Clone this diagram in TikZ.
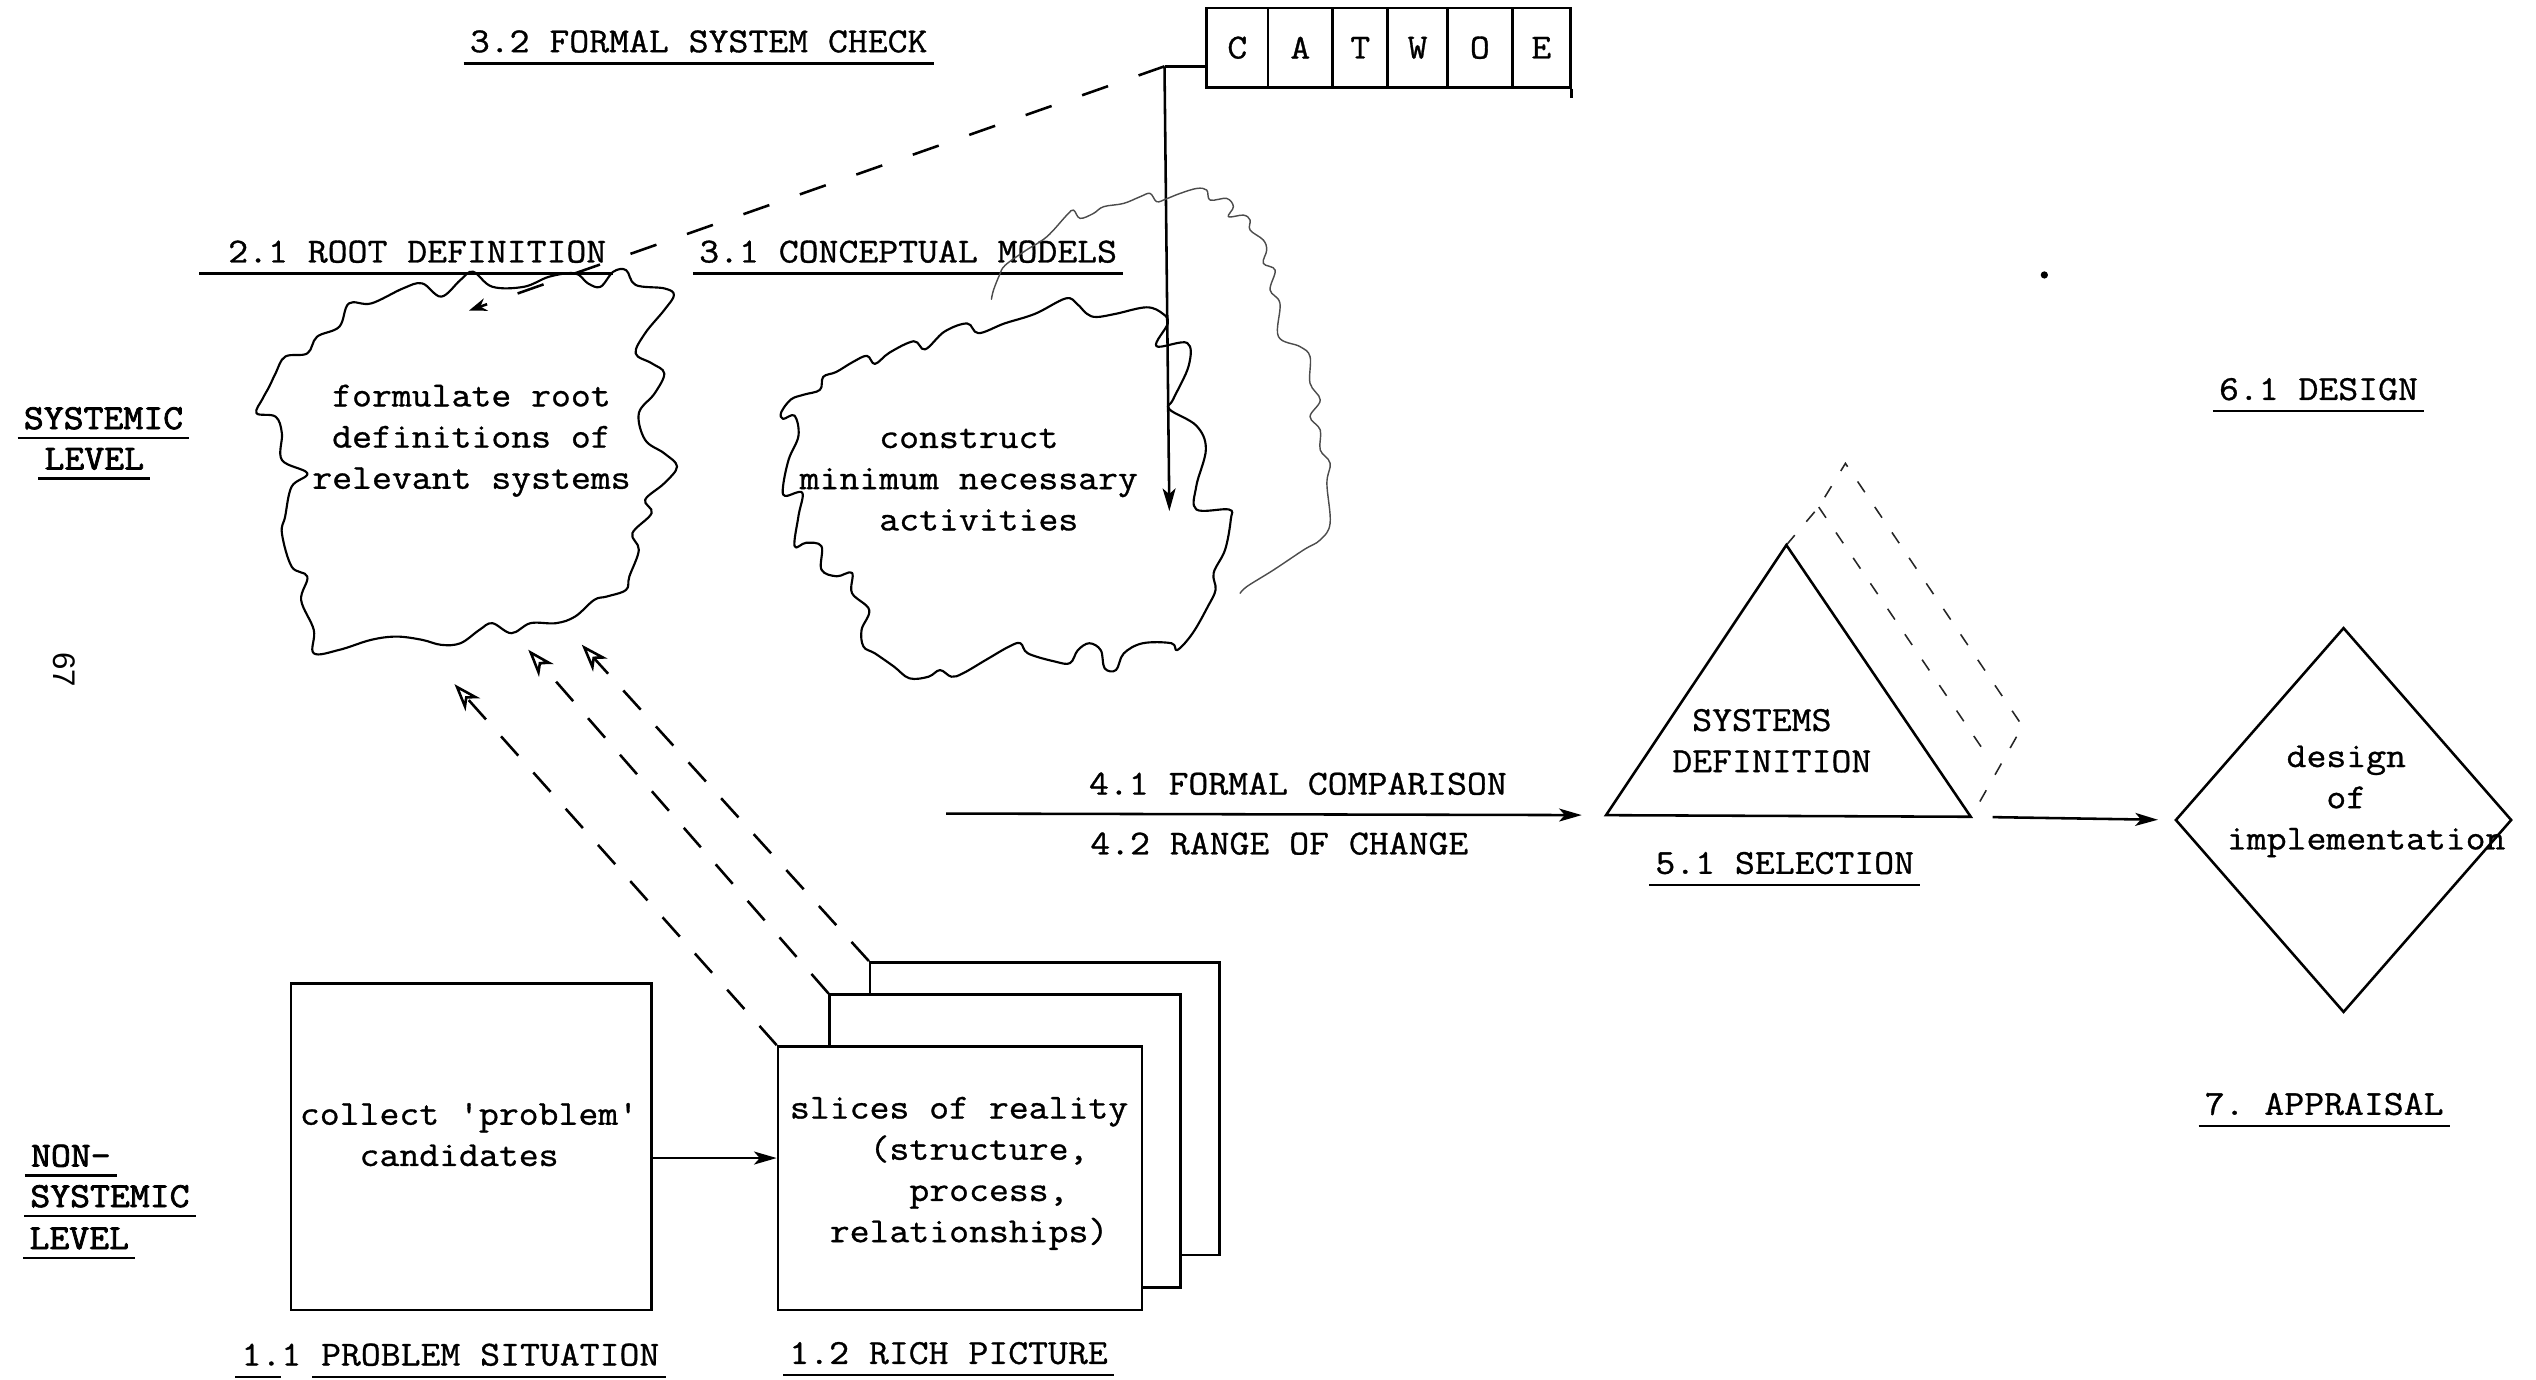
\documentclass[tikz,border=0pt]{standalone}
\usepackage{fontspec}
\setmonofont{Latin Modern Mono}[FakeStretch=1.1, FakeBold=0.9]
\newfontfamily\levelfont{Latin Modern Mono}[FakeStretch=1.1, FakeBold=2.2]
\newfontfamily\folio{Liberation Sans}
\usetikzlibrary{arrows.meta,shapes.geometric}
\begin{document}
\begin{tikzpicture}[x=0.02cm,y=-0.02cm,
  tt/.style={font=\ttfamily\fontsize{12.36}{14.5}\selectfont, inner sep=0pt},
  heading/.style={tt, text height=0.6em, text depth=0pt, inner xsep=2pt, inner ysep=3.75pt},
  levellabel/.style={heading, font=\levelfont\fontsize{12.36}{14.5}\selectfont, inner ysep=2.9pt},
  body/.style={tt, align=center},
  bodyleft/.style={tt, align=left},
  uline/.style={line width=0.85pt},
  boxline/.style={draw, line width=0.9pt, inner sep=0pt},
  sheet/.style={boxline, fill=white},
  cell/.style={boxline, tt, minimum height=0.98cm},
  cloudline/.style={line width=0.75pt, line join=round, line cap=round},
  faintcloud/.style={line width=0.5pt, black!70, line cap=round, line join=round},
  arr/.style={line width=0.9pt, -{Stealth[length=0.28cm,width=0.16cm,inset=0.07cm]}},
  longdash/.style={line width=0.9pt, dash pattern=on 0.32cm off 0.28cm},
  catdash/.style={line width=0.9pt, dash pattern=on 0.34cm off 0.4cm},
  opentip/.style={-{Stealth[open,length=0.34cm,width=0.24cm,inset=0.1cm]}},
  thindash/.style={line width=0.55pt, black!85, dash pattern=on 0.16cm off 0.22cm}
]
\useasboundingbox (0,0) rectangle (1568,853);

% ---------- headings ----------
\node[heading] (h32) at (432,27) {3.2 FORMAL SYSTEM CHECK};
\node[heading] (h21) at (258,157) {2.1 ROOT DEFINITION};
\node[heading] (h31) at (561.5,157) {3.1 CONCEPTUAL MODELS};
\node[heading] (h61) at (1433.5,242) {6.1 DESIGN};
\node[heading] (h7) at (1437,684) {7. APPRAISAL};
\node[heading] (h41) at (802.5,486) {4.1 FORMAL COMPARISON};
\node[heading] (h42) at (791,523) {4.2 RANGE OF CHANGE};
\node[heading] (h51) at (1103.5,535) {5.1 SELECTION};
\node[heading] (h11) at (278.5,839) {1.1 PROBLEM SITUATION};
\node[heading] (h12) at (586.5,838) {1.2 RICH PICTURE};

% ---------- level labels ----------
\node[levellabel] (sysA) at (64,260) {SYSTEMIC};
\node[levellabel] (sysB) at (58.3,285) {LEVEL};
\node[levellabel] (nonA) at (43.8,716) {NON-};
\node[levellabel] (nonB) at (68,741) {SYSTEMIC};
\node[levellabel] (nonC) at (49,767) {LEVEL};

\foreach \n in {h32,h31,h61,h7,h51,h12,sysA,sysB,nonA,nonB,nonC}
  \draw[uline] (\n.south west) -- (\n.south east);
\draw[uline] ([xshift=-0.28cm]h21.south west) -- (h21.south east);
\draw[uline] (h11.south west) -- ++(0.56cm,0);
\draw[uline] ([xshift=0.95cm]h11.south west) -- (h11.south east);

% page number
\node[font=\folio\fontsize{11}{13}\selectfont, rotate=-90, inner sep=0pt] (pg) at (40,414) {67};
% stray dot
\fill (1264,170) circle (0.045cm);

% ---------- CATWOE ----------
\node[cell, minimum width=0.76cm] (cC) at (765,29.5) {C};
\node[cell, minimum width=0.80cm] (cA) at (804,29.5) {A};
\node[cell, minimum width=0.68cm] (cT) at (841,29.5) {T};
\node[cell, minimum width=0.74cm] (cW) at (876.5,29.5) {W};
\node[cell, minimum width=0.80cm] (cO) at (915,29.5) {O};
\node[cell, minimum width=0.72cm] (cE) at (953,29.5) {E};
\draw[line width=0.9pt] (cE.south east) -- ++(0,6);

\coordinate (jn) at (720,41);
\coordinate (vtip) at (723,316);
\coordinate (rdtip) at (290,192);
\draw[line width=0.9pt] (jn) -- (cC.west |- jn);
\draw[arr] (jn) -- (vtip);
\draw[catdash, -{Stealth[length=0.22cm,width=0.16cm]}] (jn) -- (rdtip);

% ---------- root definition cloud ----------
\draw[cloudline] plot[smooth cycle, tension=0.6] coordinates {
 (166.5,239) (170.4,230.8) (176.3,220.5) (190,218.5) (196,208.2) (209.8,202)
 (215.7,187.6) (229.5,187.6) (249.2,178.3) (261,175.2) (272.8,183.4) (284.7,173.1)
 (292.5,168) (304.4,177.3) (324,177.3) (339.8,171) (355.6,169) (363.5,175.2)
 (371.3,177.3) (379.2,168) (387.1,167) (393,176.2) (410.7,178.3) (416.7,182.4)
 (410.7,191.7) (398.9,206) (393,218.5) (402.9,224.6) (410.7,230.8) (404.8,243.2)
 (395,255.5) (398.9,272) (410.7,280.3) (418.6,288.5) (410.7,298.8) (398.9,309)
 (402.9,317.3) (391,329.7) (395,340) (389.1,356.5) (387.1,364.7)
 (375.3,368.8) (367.4,370.9) (355.6,381.2) (343.8,385.3) (328,385.3) (316.2,391.5)
 (304.4,385.3) (296.5,389.4) (284.7,397.7) (272.8,398.7) (261,395.6) (245.3,393.6)
 (229.5,395.6) (209.8,401.8) (194,403.9)
 (194,389.4) (186.2,371) (190,356.5) (180.3,350.3) (174.3,329.7) (176.3,319.4)
 (180.3,300.9) (190,292.6) (174.3,284.4) (174.3,267.9) (170.4,257.6) (158.6,255.5)
 (162.5,246.3)};
\node[body] (rdtext) at (291.5,272.5) {formulate root\\definitions of\\relevant systems};

% ---------- conceptual model clouds ----------
\draw[faintcloud] plot[smooth, tension=0.6] coordinates {
 (613,185) (614.3,179.3) (618,170) (621.5,164) (634,155) (647.2,146.4) (659.6,133)
 (663.7,129.9) (667.8,135) (676,132) (682.3,127.8) (694.6,125.8) (705,121.6)
 (711.1,119.6) (715.2,124.7) (721,123) (729.6,119.6) (740,116.5) (746.1,117.5)
 (748.2,123.7) (758.5,122.7) (762.6,127.8) (759.5,134) (768.8,133) (772.9,136)
 (772.9,142.2) (781.1,148.4) (783.2,154.6) (781.1,162.8) (788.4,167) (785.3,179.3)
 (791.4,187.6) (790.4,208) (803.8,214.3) (810,220.5) (810,237) (816.3,247.3)
 (810,257.6) (816.3,265.8) (816.3,278.2) (822.4,286.4) (820.4,298.8) (822.4,323.5)
 (816.3,333.8) (806,340) (787.4,352.4) (771,362.6) (766.8,366.8)};
\draw[cloudline] plot[smooth cycle, tension=0.6] coordinates {
 (489,247) (497,244) (507,241) (509,233) (517,230) (527,224) (536,220) (541,225)
 (550,218) (565,211) (572,216) (584,205) (598,200) (605,206) (621,200) (640,194)
 (659,184.5) (666,188) (672,194) (678,196) (690,194) (709,190) (719,194) (722,200)
 (715,214) (734,212) (735,226) (725.5,246.6) (723,253) (739.7,263.2) (745.6,277.6)
 (739.7,300.4) (739.7,315) (759.8,315) (761,321) (757.5,339.8) (750.4,354.2)
 (751.6,364.6) (746.8,375) (737.4,391.5) (727.9,401.9) (724.3,397.7) (706.6,397.7)
 (694.8,404) (690,414.3) (683,413.2) (680.6,402) (673.5,397.7) (666.4,402)
 (661.6,410) (652.2,409) (635.6,404) (630.9,397.7) (623.8,399.8) (609.6,408)
 (595.4,416.3) (588.3,418.4) (581.2,414.3) (574.1,418.4) (562.3,419.4) (552.8,412.2)
 (541,404) (533.9,399.8) (532.7,389.4) (537.4,377) (526.8,366.7) (526.8,354.2)
 (517.3,356.3) (507.9,352.2) (507.9,337.7) (498.4,335.6) (491.3,337.7) (493.7,319)
 (496,304.6) (485.4,306.6) (484.2,300.4) (487.7,283.9) (493.7,269.4) (491.3,257)
 (484.2,259) (483,255)};
\node[bodyleft] (cmtext) at (599,296.5) {\phantom{xxxx}construct\\minimum necessary\\\phantom{xxxx}activities};

% ---------- systems definition triangle ----------
\coordinate (triA) at (1104.5,337);
\coordinate (triL) at (993,504);
\coordinate (triR) at (1218.5,505);
\coordinate (iA) at (1124.5,313.5);
\coordinate (oA) at (1141,286.5);
\coordinate (iB) at (1230.5,470);
\coordinate (oB) at (1250.5,449);
\coordinate (oC) at (1220.5,502);
\draw[thindash] (triA) -- (iA) -- (oA) -- (oB) -- (oC);
\draw[thindash] (iA) -- (iB);
\draw[line width=0.9pt, line join=miter] (triL) -- (triA) -- (triR) -- cycle;
\node[bodyleft] (sdtext) at (1095.5,458) {\phantom{x}SYSTEMS\\DEFINITION};

% ---------- design of implementation ----------
\node[diamond, draw, line width=0.9pt, minimum width=4.16cm, minimum height=4.76cm, inner sep=0pt] (dia) at (1449,507) {};
\node[bodyleft] (ditext) at (1463,495.5) {\phantom{xxx}design\\\phantom{xxxxx}of\\implementation};

\coordinate (cmpS) at (585,503);
\draw[arr, shorten >=0.3cm] (cmpS) -- (triL);
\draw[arr, shorten >=0.2cm, shorten <=0.27cm] (triR) -- (dia.west);

% ---------- problem situation and rich picture ----------
\node[boxline, minimum width=4.46cm, minimum height=4.04cm] (box11) at (291.5,709) {};
\node[bodyleft] (pstext) at (290,701.5) {collect 'problem'\\\phantom{xxx}candidates};

\node[sheet, minimum width=4.32cm, minimum height=3.62cm] (back) at (646,685.5) {};
\node[sheet, minimum width=4.34cm, minimum height=3.62cm] (mid) at (621.5,705.5) {};
\node[sheet, minimum width=4.50cm, minimum height=3.26cm] (front) at (593.5,728.5) {};
\node[bodyleft] (rptext) at (593,725.5) {slices of reality\\\phantom{xxxx}(structure,\\\phantom{xxxxxx}process,\\\phantom{xx}relationships)};

\coordinate (ay) at (0,716);
\draw[arr] (box11.east |- ay) -- (front.west |- ay);

\coordinate (t1) at (281,423);
\coordinate (t2) at (326.6,401.7);
\coordinate (t3) at (359.7,398.6);
\draw[longdash, opentip] (front.north west) -- (t1);
\draw[longdash, opentip] (mid.north west) -- (t2);
\draw[longdash, opentip] (back.north west) -- (t3);

\end{tikzpicture}
\end{document}
